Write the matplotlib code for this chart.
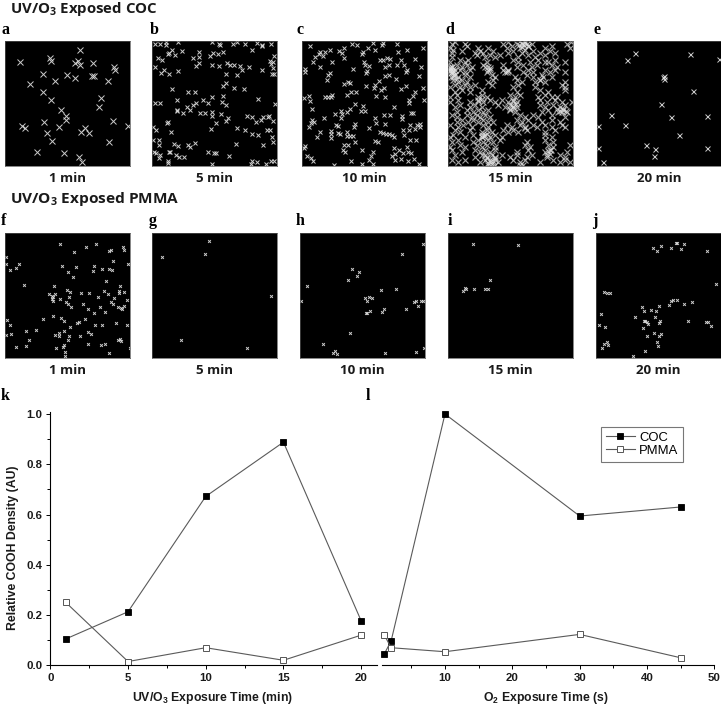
import matplotlib
matplotlib.use("Agg")
import matplotlib.pyplot as plt
from matplotlib.ticker import MultipleLocator

plt.rcParams['mathtext.default'] = 'regular'
plt.rcParams['font.family'] = 'Liberation Sans'
plt.rcParams['font.weight'] = 'bold'
W, H = 721, 709

# ---- line chart values ----
uv_time = [1, 5, 10, 15, 20]
uv_coc = [0.105, 0.213, 0.672, 0.888, 0.177]
uv_pmma = [0.25, 0.015, 0.07, 0.02, 0.12]
o2_time = [1, 2, 10, 30, 45]
o2_coc = [0.046, 0.097, 1.0, 0.594, 0.63]
o2_pmma = [0.12, 0.07, 0.054, 0.123, 0.03]

# ---- detected sites per map, in map units ----
a_pts = [(241,151),(59,188),(150,176),(153,185),(225,190),(234,185),(240,197),(279,189),(343,202),(346,212),
(130,224),(202,225),(224,236),(275,230),(283,229),(325,243),(164,244),(89,254),(128,277),(153,301),(303,296),
(297,322),(184,330),(197,349),(197,361),(339,363),(133,366),(66,379),(75,386),(178,381),(383,380),(255,384),
(243,397),(268,400),(142,399),(156,425),(327,427),(110,456),(193,461),(238,471),(246,488)]
b_pts = [(467,134),(483,134),(499,128),(499,137),(535,127),(637,128),(660,132),(663,135),(702,132),(713,128),
(738,133),(773,130),(787,135),(789,140),(815,133),(758,150),(549,153),(518,152),(510,160),(505,163),(600,158),
(528,167),(640,161),(655,163),(670,158),(600,172),(580,175),(631,170),(477,175),(487,180),(823,169),(813,185),
(820,188),(816,192),(598,191),(590,198),(683,190),(692,196),(704,196),(722,198),(467,201),(638,197),(660,198),
(728,210),(749,202),(789,210),(821,205),(495,210),(486,220),(510,222),(536,213),(681,223),(713,226),(817,224),
(823,224),(680,250),(670,259),(518,268),(703,265),(735,269),(567,277),(587,277),(670,290),(638,293),(777,297),
(534,301),(611,301),(590,311),(468,309),(481,309),(581,316),(627,311),(667,308),(679,315),(827,314),(564,323),
(571,330),(534,331),(532,335),(603,339),(617,339),(550,341),(637,338),(637,350),(666,344),(742,348),(758,352),
(791,352),(810,350),(807,352),(686,356),(681,363),(785,360),(769,367),(820,363),(505,367),(503,370),(651,371),
(461,381),(469,390),(636,388),(714,385),(736,391),(802,391),(811,391),(514,397),(759,402),(776,406),(818,412),
(460,421),(479,422),(479,436),(822,428),(524,434),(537,440),(567,436),(573,443),(586,429),(711,432),(792,435),
(463,457),(470,460),(481,465),(478,474),(508,458),(513,456),(530,466),(540,472),(555,472),(626,458),(645,460),
(650,460),(689,468),(757,484),(773,488),(815,485),(825,485),(505,483),(507,491),(638,494),(755,494),(799,492)]
c_pts = [(43,79),(169,74),(184,75),(232,71),(262,70),(260,76),(305,73),(147,84),(240,90),(336,91),(382,86),(75,97),
(105,90),(90,97),(131,95),(140,100),(70,103),(60,113),(83,110),(147,115),(203,97),(199,104),(218,85),(307,98),
(275,114),(285,118),(255,122),(262,122),(318,122),(360,119),(110,126),(52,128),(207,126),(210,135),(222,140),
(305,135),(74,143),(174,147),(270,143),(282,136),(325,136),(336,150),(30,148),(30,157),(376,143),(216,155),
(212,160),(104,160),(97,167),(95,180),(270,170),(282,165),(371,170),(332,157),(252,185),(302,177),(332,199),
(145,193),(157,188),(163,191),(238,197),(236,206),(211,200),(258,210),(267,205),(317,208),(382,206),(155,225),
(168,218),(182,218),(241,228),(270,232),(110,226),(107,233),(89,233),(97,233),(40,230),(25,236),(43,245),
(360,218),(352,228),(340,240),(340,250),(385,241),(204,259),(180,252),(297,262),(50,267),(210,273),(198,273),
(136,273),(163,268),(119,282),(140,283),(154,278),(137,296),(87,296),(266,285),(285,287),(240,296),(321,288),
(321,298),(346,280),(352,280),(50,300),(55,306),(47,310),(40,321),(123,315),(128,320),(180,312),(175,322),
(222,324),(243,310),(270,312),(365,315),(375,312),(375,322),(345,316),(323,332),(342,330),(360,327),(108,335),
(106,342),(108,354),(75,337),(65,351),(128,340),(135,342),(155,337),(155,350),(165,350),(172,350),(253,337),
(263,340),(272,342),(282,343),(290,347),(295,353),(325,345),(345,360),(362,360),(240,363),(248,366),(178,367),
(147,375),(157,375),(143,390),(150,397),(199,391),(295,386),(335,383),(310,390),(300,402),(322,400),(338,398),
(347,400),(232,397),(228,410),(222,422),(232,432),(290,408),(300,420),(318,419),(337,425),(355,418),(168,424),
(200,434),(117,436),(30,380),(25,386),(35,408),(47,415),(52,425),(372,432)]
d_rows = {
13:[30,190,240,378],18:[20,60,175,215,230,260,365],24:[65,200,250,320],29:[15,100,130,185,225,300,375],
35:[25,240],40:[50,105,145,205,265,315],45:[20,90,115,190,230,285,330],
52:[95,135,165,250,300],57:[20,120,150,220,270],66:[45,70,205,280,330],72:[15,60,125,220,255,300,310,360],
81:[35,65,115,175,235,275,320],86:[15,22,50,80,130,215,260,335],95:[15,45,75,135,190,250,300,330],
101:[20,28,60,125,180,235,265,315,360],110:[30,60,140,245,290],116:[18,40,75,150,210,265,320],
126:[25,50,145,215,285],132:[40,65,130,230,270,300,360],141:[30,60,90,140,220,350],147:[15,45,75,205,270,360],
156:[50,110,285,360],162:[30,75,215,310],171:[35,110,195,225,300],177:[15,100,125,210,280,320,335],
186:[40,100,135,170,205,285,330],192:[15,75,115,150,190,215,305,350,380],
201:[45,90,160,195,285,325,360],207:[30,75,110,180,205,215,300,345],
216:[65,100,130,195,310,355],222:[35,85,115,210,290,340,365],231:[20,65,95,120,225,265,320],
237:[35,80,105,135,240,280,360],246:[50,85,115,215,250,320],252:[35,70,100,130,145,230,290,345],
261:[15,55,115,185,225,265,300,350],267:[40,80,130,200,240,275,320,360],
276:[30,75,125,175,205,245,330],282:[45,110,140,190,220,300],291:[25,85,120,150,300],297:[15,60,110,135,170,320],
306:[40,100,130,165,300],312:[20,85,115,145,245,325],321:[45,95,125,240,310,375],327:[15,60,110,150,255,325],
336:[20,90,120,150,250,315],342:[50,105,135,215,300,365],351:[30,110,140,170,215,260,345],
357:[90,125,150,195,245,305,360],366:[20,60,120,150,205,240,325,360],372:[40,105,135,160,225,285,345,375],
380:[130,150,225,235]}
d_blobs = [(15,90),(20,95),(25,100),(18,105),(28,110),(22,88),(30,95),(14,100),(25,118),(35,122),
(222,20),(230,15),(238,22),(245,18),(232,28),(250,25),(240,12),(125,360),(135,365),(145,370),(130,375),(140,378),
(150,360),(120,352),(335,212),(345,218),(355,214),(362,220),(350,222),(110,290),(118,295),(125,288),(112,298),
(120,88),(128,95),(135,90),(175,97),(185,103),(190,98),(200,200),(208,210),(212,198),(195,212),(205,190),
(310,340),(318,335),(305,350),(315,348),(240,270),(100,190),(110,182),(285,125),(295,118)]
d_pts = [(x, y) for y, xs in d_rows.items() for x in xs] + d_blobs
e_pts = [(136,101),(111,120),(301,103),(388,118),(222,168),(221,173),(222,178),(310,214),(214,253),(62,285),(245,292),
(353,290),(22,319),(105,317),(269,346),(167,375),(194,389),(193,410),(23,385),(352,386),(38,428)]
f_pts = [(180,161),(258,170),(288,161),(223,185),(327,181),(334,179),(370,171),(373,180),(17,201),(17,221),(57,221),
(47,232),(29,240),(339,213),(383,220),(185,227),(228,231),(282,227),(306,235),(328,236),(336,240),(278,243),
(204,246),(219,260),(317,271),(71,284),(161,287),(360,288),(200,298),(211,305),(148,310),(165,310),(155,316),
(159,320),(155,325),(160,332),(242,308),(267,307),(313,302),(324,311),(358,302),(358,308),(372,306),(208,319),
(295,320),(181,325),(343,324),(382,329),(198,336),(204,342),(213,351),(248,340),(332,334),(338,340),(263,355),
(301,351),(355,350),(362,352),(373,348),(365,357),(316,364),(282,369),(160,377),(128,386),(183,382),(193,391),
(20,388),(256,387),(232,397),(238,394),(347,397),(284,404),(307,405),(381,403),(30,405),(210,410),(78,421),
(108,419),(192,423),(265,424),(272,432),(18,435),(32,431),(165,434),(177,427),(178,437),(207,437),(240,436),
(88,450),(205,449),(360,445),(355,450),(362,453),(193,464),(188,469),(265,462),(304,464),(314,461),(47,470),
(79,466),(168,473),(390,472),(196,486),(328,487),(196,498)]
g_pts = [(628,150),(617,190),(489,198),(816,315),(545,447),(743,472)]
h_pts = [(386,102),(323,132),(174,175),(194,184),(187,197),(160,208),(38,226),(259,239),(306,235),(21,272),(212,264),
(217,272),(225,260),(233,264),(359,274),(365,273),(381,273),(387,273),(372,287),(334,295),(268,295),(264,304),
(227,303),(214,307),(219,309),(168,367),(86,402),(122,423),(116,428),(127,430),(271,428),(365,426),(390,413)]
i_pts = [(536,102),(671,105),(587,210),(510,233),(515,237),(505,241),(537,237),(572,235),(579,237)]
j_pts = [(1076,114),(1087,123),(1100,107),(1130,112),(1145,99),(1148,99),(1160,116),(1167,102),(1238,121),(1264,220),
(927,246),(938,249),(945,247),(1191,275),(1146,269),(1136,270),(1130,271),(1122,283),(1167,281),(1092,286),
(1041,291),(1048,303),(1069,300),(1083,303),(920,311),(1022,319),(1080,319),(1095,333),(1094,339),(1048,333),
(1052,331),(1056,335),(1061,340),(1179,332),(1233,335),(1241,335),(1248,348),(914,344),(932,350),(1044,353),
(1077,367),(1098,370),(1094,376),(1056,377),(1087,395),(1090,407),(938,394),(929,401),(939,405),(923,414),
(1051,423),(1015,437)]

captions_top = ['1 min', '5 min', '10 min', '15 min', '20 min']
captions_bottom = ['1 min', '5 min', '10 min', '15 min', '20 min']

fig = plt.figure(figsize=(W/100, H/100), dpi=100, facecolor='white')

def axes_px(x0, y0, x1, y1):
    return fig.add_axes([x0/W, 1-y1/H, (x1-x0)/W, (y1-y0)/H])

def txt(x, y, s, **kw):
    kw.setdefault('ha', 'center')
    kw.setdefault('va', 'center')
    fig.text(x/W, 1-y/H, s, **kw)

def site_map(rect, origin, pts, ms, mew, caption, cap_y, alpha=0.9):
    ax = axes_px(*rect)
    ax.set_facecolor('black')
    ax.plot([p[0] for p in pts], [p[1] for p in pts], ls='none', marker='x',
            ms=ms, mew=mew, color='#e2e2e2', alpha=alpha)
    ax.set_xlim(origin[0], origin[0]+375)
    ax.set_ylim(origin[1]+375, origin[1])
    ax.set_xticks([]); ax.set_yticks([])
    for s in ax.spines.values():
        s.set_color('#555555'); s.set_linewidth(0.5)
    txt((rect[0]+rect[2])/2, cap_y, caption, family='Open Sans', weight='bold', fontsize=9.6, color='#1a1a1a')

site_map((5,41,130,166), (15,124), a_pts, 3.8, 0.7, captions_top[0], 178)
site_map((152,41,277,166), (458,124), b_pts, 2.2, 0.7, captions_top[1], 178)
site_map((302,41,427,166), (20,64), c_pts, 2.2, 0.7, captions_top[2], 178)
site_map((448,41,573,166), (9,9), d_pts, 4.2, 0.8, captions_top[3], 178, alpha=0.72)
site_map((597,41,721,166), (20,64), e_pts, 3.6, 0.7, captions_top[4], 178)
site_map((5,233,130,358), (15,128), f_pts, 2.0, 0.7, captions_bottom[0], 371)
site_map((152,233,277,358), (458,127), g_pts, 2.0, 0.7, captions_bottom[1], 371)
site_map((300,233,425,358), (17,68), h_pts, 2.0, 0.7, captions_bottom[2], 371)
site_map((448,233,573,358), (460,68), i_pts, 2.0, 0.7, captions_bottom[3], 371)
site_map((596,233,721,358), (904,68), j_pts, 2.0, 0.7, captions_bottom[4], 371)

txt(10, 8.5, r'UV/O$\mathregular{_3}$ Exposed COC', ha='left', family='Open Sans', weight='bold', fontsize=10.8, color='#1a1a1a')
txt(10, 198.5, r'UV/O$\mathregular{_3}$ Exposed PMMA', ha='left', family='Open Sans', weight='bold', fontsize=11.1, color='#1a1a1a')

letters = [('a',5,30),('b',154,30),('c',300,30),('d',450,30),('e',597,30),
           ('f',4,221),('g',153,221),('h',300,221),('i',450,221),('j',595,221),
           ('k',5,396),('l',368,396)]
for s, x, y in letters:
    txt(x, y, s, family='Liberation Serif', weight='bold', fontsize=11.5, color='black')

line_kw = dict(color='#5a5a5a', lw=0.8)
def style(ax):
    ax.set_facecolor('none')
    for s in ('top', 'right'):
        ax.spines[s].set_visible(False)
    for s in ax.spines.values():
        s.set_linewidth(0.8)
    ax.tick_params(which='major', length=3.2, width=0.7, pad=2.5, labelsize=8.2, labelcolor='#1a1a1a')
    ax.tick_params(which='minor', length=2, width=0.7)

def series(ax, x, coc, pmma):
    l1, = ax.plot(x, coc, marker='s', ms=4.0, mfc='black', mec='black', mew=0.6, label='COC', clip_on=False, **line_kw)
    l2, = ax.plot(x, pmma, marker='s', ms=4.0, mfc='white', mec='#555555', mew=0.7, label='PMMA', clip_on=False, **line_kw)
    return l1, l2

ax1 = axes_px(50.3, 412, 376.7, 665.3)
series(ax1, uv_time, uv_coc, uv_pmma)
ax1.set_xlim(0, 21); ax1.set_ylim(0, 1.008)
ax1.set_xticks([0, 5, 10, 15, 20]); ax1.xaxis.set_minor_locator(MultipleLocator(2.5))
ax1.set_yticks([0, .2, .4, .6, .8, 1.0]); ax1.yaxis.set_minor_locator(MultipleLocator(0.1))
style(ax1)

ax2 = axes_px(381.7, 412, 714.3, 665.3)
lines = series(ax2, o2_time, o2_coc, o2_pmma)
ax2.set_xlim(0.6, 50); ax2.set_ylim(0, 1.008)
ax2.set_xticks([10, 20, 30, 40, 50]); ax2.xaxis.set_minor_locator(MultipleLocator(5))
ax2.set_yticks([])
ax2.spines['left'].set_visible(False)
style(ax2)

leg = ax2.legend(lines, ['COC', 'PMMA'], loc='upper left', bbox_to_anchor=((600.7-381.7)/332.6, (665.3-426.7)/253.3),
                 borderaxespad=0, frameon=True, fancybox=False, edgecolor='#777777', framealpha=1,
                 prop={'family': 'Liberation Sans', 'size': 9.4, 'weight': 'normal'}, borderpad=0.4, labelspacing=0.05,
                 handlelength=2.2, handletextpad=0.33)
leg.get_frame().set_linewidth(0.8)

lab = dict(family='Liberation Sans', weight='bold', color='#1a1a1a')
txt(13, 548, 'Relative COOH Density (AU)', rotation=90, fontsize=8.8, **lab)
txt(213, 698, r'UV/O$\mathregular{_3}$ Exposure Time (min)', fontsize=8.8, **lab)
txt(546, 698, r'O$\mathregular{_2}$ Exposure Time (s)', fontsize=8.8, **lab)

fig.savefig('out.png', dpi=100, facecolor='white')
